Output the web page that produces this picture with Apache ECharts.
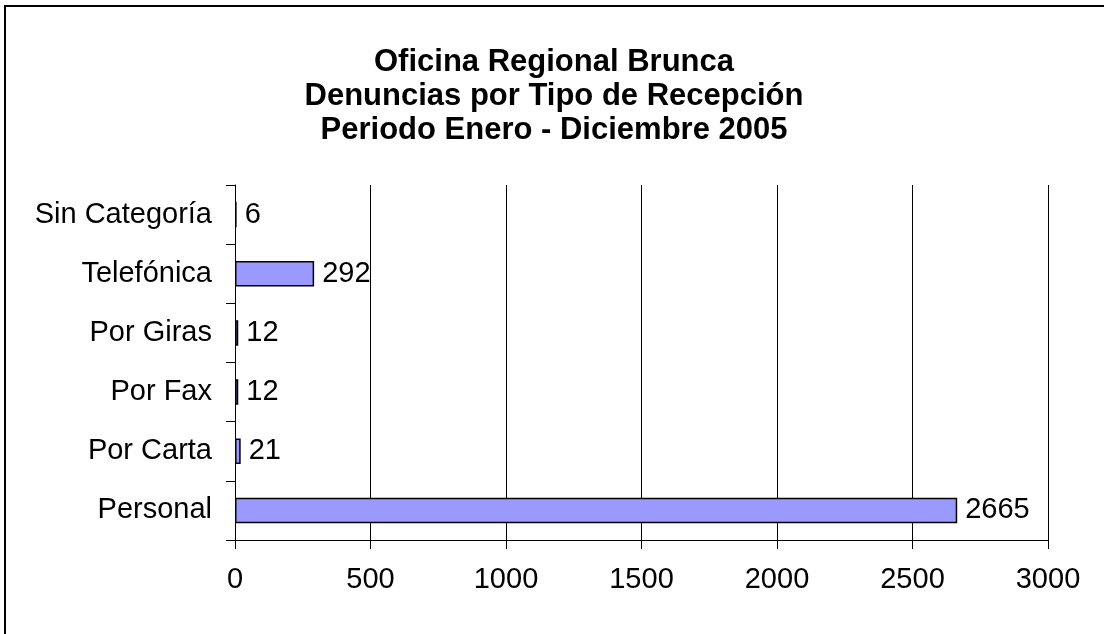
<!DOCTYPE html>
<html>
<head>
<meta charset="utf-8">
<script src="https://cdn.jsdelivr.net/npm/echarts@6/dist/echarts.min.js"></script>
<style>
  html, body { margin: 0; padding: 0; background: #fff; }
  #chart { width: 1104px; height: 634px; }
</style>
</head>
<body>
<div id="chart"></div>
<script>
// categories from bottom to top
var categories = ['Personal', 'Por Carta', 'Por Fax', 'Por Giras', 'Telefónica', 'Sin Categoría'];
var denuncias = [2665, 21, 12, 12, 292, 6];
var titleLines = ['Oficina Regional Brunca', 'Denuncias por Tipo de Recepción', 'Periodo Enero - Diciembre 2005'];

var font = 'Liberation Sans, Arial, sans-serif';
var myChart = echarts.init(document.getElementById('chart'));

myChart.setOption({
  animation: false,
  title: {
    text: titleLines.join('\n'),
    left: 549,
    top: 40,
    textAlign: 'center',
    textStyle: {
      fontFamily: font,
      fontSize: 31,
      fontWeight: 'bold',
      color: '#000',
      lineHeight: 34
    }
  },
  graphic: [{
    type: 'rect',
    shape: { x: 5, y: 6, width: 1300, height: 800 },
    style: { fill: 'none', stroke: '#000', lineWidth: 2 },
    silent: true
  }],
  grid: {
    left: 235,
    right: 56,
    top: 185,
    bottom: 94,
    containLabel: false
  },
  xAxis: {
    type: 'value',
    min: 0,
    max: 3000,
    interval: 500,
    axisLine: { show: true, lineStyle: { color: '#000', width: 1 } },
    axisTick: { show: true, length: 9, lineStyle: { color: '#000' } },
    axisLabel: {
      margin: 25, color: '#000', fontFamily: font, fontSize: 29,
      formatter: function (v) { return String(v); }
    },
    splitLine: { show: true, lineStyle: { color: '#000', width: 1 } }
  },
  yAxis: {
    type: 'category',
    data: categories,
    boundaryGap: true,
    axisLine: { show: true, lineStyle: { color: '#000', width: 1 } },
    axisTick: { show: true, length: 9, lineStyle: { color: '#000' } },
    axisLabel: { margin: 23, color: '#000', fontFamily: font, fontSize: 29 },
    splitLine: { show: false }
  },
  series: [{
    type: 'bar',
    data: denuncias,
    barWidth: '43%',
    itemStyle: { color: '#9999ff', borderColor: '#000', borderWidth: 1.5 },
    label: {
      show: true,
      position: 'right',
      distance: 8,
      color: '#000',
      fontFamily: font,
      fontSize: 29
    }
  }]
});
</script>
</body>
</html>
